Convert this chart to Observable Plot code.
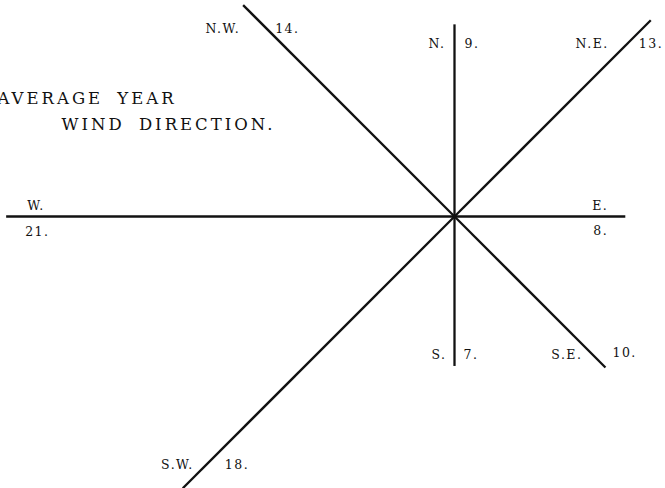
<!DOCTYPE html>
<html>
<head>
<meta charset="utf-8">
<script src="https://cdn.jsdelivr.net/npm/d3@7"></script>
<script src="https://cdn.jsdelivr.net/npm/@observablehq/plot@0.6"></script>
<style>
  html, body { margin: 0; padding: 0; background: #fff; }
</style>
</head>
<body>
<div id="chart"></div>
<script>
// ---- data ----
const directions = ["N.", "N.E.", "E.", "S.E.", "S.", "S.W.", "W.", "N.W."];
const values = [9, 13, 8, 10, 7, 18, 21, 14];
const valueLabels = ["9.", "13.", "8.", "10.", "7.", "18.", "21.", "14."];
const titleLines = ["AVERAGE YEAR", "WIND DIRECTION."];

// ---- layout ----
const W = 665, H = 488;
const cx = 454, cy = 216;   // centre of the rose in px
const k = 21.35;            // px per unit
// label offsets in px from the end of each ray: [nameAnchor, ndx, ndy, numAnchor, vdx, vdy]
const labelLayout = {
  "N.":   ["end", -9, 24, "start", 10, 24],
  "N.E.": ["end", -42, 28, "start", -12, 28],
  "E.":   ["end", -17, -7, "end", -17, 18],
  "S.E.": ["end", -23, -8, "start", 7, -10],
  "S.":   ["end", -8, -6.5, "start", 9, -6.5],
  "S.W.": ["end", 11, -19, "start", 42, -19],
  "W.":   ["start", 21, -7, "start", 19, 19],
  "N.W.": ["end", -3, 28, "start", 32, 28]
};

const rays = directions.map((d, i) => {
  const a = i * Math.PI / 4;
  return {dir: d, value: values[i], label: valueLabels[i],
          x2: values[i] * Math.sin(a), y2: values[i] * Math.cos(a)};
});

const labels = [];
for (const r of rays) {
  const [na, ndx, ndy, va, vdx, vdy] = labelLayout[r.dir];
  labels.push({text: r.dir, anchor: na, x: r.x2 + ndx / k, y: r.y2 - ndy / k});
  labels.push({text: r.label, anchor: va, x: r.x2 + vdx / k, y: r.y2 - vdy / k});
}

const chart = Plot.plot({
  width: W,
  height: H,
  margin: 0,
  x: {domain: [-cx / k, (W - cx) / k], axis: null},
  y: {domain: [-(H - cy) / k, cy / k], axis: null},
  style: {fontFamily: "'DejaVu Serif', serif", fontSize: "13px", background: "#fff", color: "#111"},
  marks: [
    Plot.link(rays, {x1: 0, y1: 0, x2: "x2", y2: "y2", stroke: "#111", strokeWidth: 2.3, strokeLinecap: "butt"}),
    Plot.text(labels.filter(d => d.anchor === "end"), {
      x: "x", y: "y", text: "text", textAnchor: "end", lineAnchor: "bottom",
      fontSize: 12.5, fill: "#111"
    }),
    Plot.text(labels.filter(d => d.anchor === "start"), {
      x: "x", y: "y", text: "text", textAnchor: "start", lineAnchor: "bottom",
      fontSize: 12.5, fill: "#111"
    }),
    Plot.text([titleLines[0]], {
      frameAnchor: "top-left", dx: -3, dy: 103, textAnchor: "start", lineAnchor: "bottom",
      fontSize: 16.5, fill: "#111"
    }),
    Plot.text([titleLines[1]], {
      frameAnchor: "top-left", dx: 61, dy: 129, textAnchor: "start", lineAnchor: "bottom",
      fontSize: 16.5, fill: "#111"
    })
  ]
});

d3.select(chart).selectAll("text").each(function() {
  const t = this.textContent;
  if (titleLines.includes(t)) {
    this.style.letterSpacing = "3px";
    this.style.wordSpacing = "6px";
  } else {
    this.style.letterSpacing = "1.5px";
  }
});

document.getElementById("chart").appendChild(chart);
</script>
</body>
</html>
